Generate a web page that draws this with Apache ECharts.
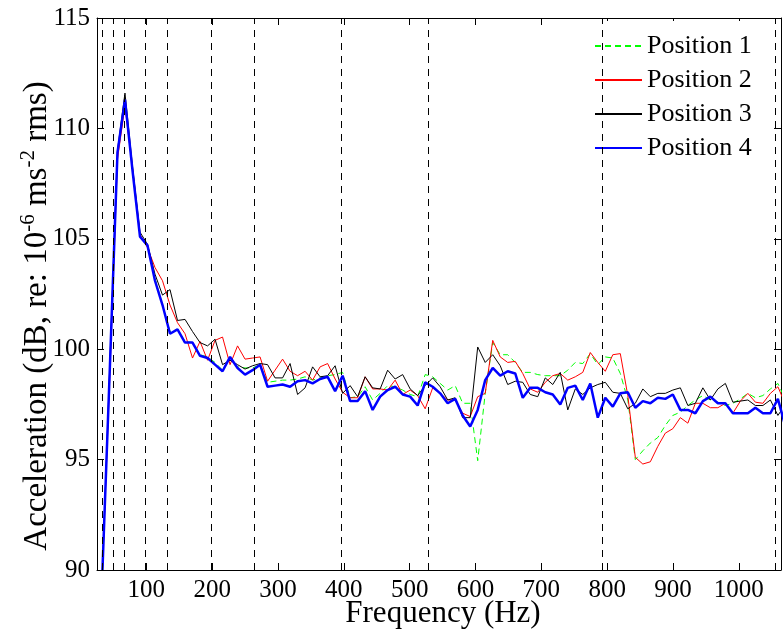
<!DOCTYPE html>
<html>
<head>
<meta charset="utf-8">
<script src="https://cdn.jsdelivr.net/npm/echarts@6/dist/echarts.min.js"></script>
<style>
html,body{margin:0;padding:0;background:#fff;}
#chart{width:784px;height:633px;}
</style>
</head>
<body>
<div id="chart"></div>
<script>
// Frequency bins (Hz)
const freq = [33.3,44.7,56.1,67.5,78.9,90.3,101.7,113.1,124.5,135.9,147.3,158.7,170.1,181.5,192.9,204.3,215.7,227.1,238.5,249.9,261.3,272.7,284.1,295.5,306.9,318.3,329.7,341.1,352.5,363.9,375.3,386.7,398.1,409.5,420.9,432.3,443.7,455.1,466.5,477.9,489.3,500.7,512.1,523.5,534.9,546.3,557.7,569.1,580.5,591.9,603.3,614.7,626.1,637.5,648.9,660.3,671.7,683.1,694.5,705.9,717.3,728.7,740.1,751.5,762.9,774.3,785.7,797.1,808.5,819.9,831.3,842.7,854.1,865.5,876.9,888.3,899.7,911.1,922.5,933.9,945.3,956.7,968.1,979.5,990.9,1002.3,1013.7,1025.1,1036.5,1047.9,1059.3,1070.7];

// Position 1 (green dashed)
const pos1 = [90.0,99.3,108.8,111.2,108.1,105.1,104.7,103.2,102.0,100.8,100.9,100.35,100.3,99.75,99.65,99.4,99.05,99.65,99.2,99.15,99.15,99.3,98.5,98.55,98.6,98.6,98.65,98.75,98.6,98.7,98.8,98.85,98.95,97.8,97.85,98.3,97.7,98.0,98.35,98.3,98.15,97.95,97.85,98.85,98.75,98.45,98.15,98.35,97.55,97.55,94.95,98.0,100.3,99.75,99.75,99.4,98.95,98.95,98.85,98.8,98.8,98.8,99.05,99.4,99.35,99.8,99.3,99.65,99.6,98.9,97.7,95.0,95.4,95.75,96.0,96.55,97.0,97.15,97.45,97.7,97.9,97.7,97.6,97.45,97.55,97.75,98.0,97.8,97.9,98.2,98.45,97.7];

// Position 2 (red)
const pos2 = [90.0,99.0,108.6,111.0,108.2,105.2,104.6,103.7,103.1,102.0,101.2,100.7,99.6,100.35,99.5,100.4,100.55,99.3,100.15,99.55,99.6,99.65,98.55,99.05,99.55,99.0,98.8,99.0,98.6,99.2,99.35,98.65,98.05,97.8,97.8,98.75,98.2,98.2,98.15,98.6,97.95,98.15,97.9,97.3,98.25,98.0,97.7,97.7,97.1,96.95,97.85,98.0,100.4,99.65,99.4,99.45,98.9,98.2,98.05,98.5,98.8,98.9,98.6,98.75,98.95,99.85,99.4,99.0,99.75,99.8,97.9,95.1,94.8,94.9,95.6,96.2,96.4,96.9,96.65,97.55,97.55,97.35,97.35,97.55,97.1,97.65,98.0,97.6,97.55,98.0,98.3,97.5];

// Position 3 (black)
const pos3 = [90.0,99.5,109.0,111.6,108.3,105.3,104.75,103.4,102.45,102.7,101.3,101.35,100.8,100.3,100.15,100.45,99.3,99.5,99.3,99.1,99.25,99.35,99.3,98.7,98.7,99.35,97.95,98.25,99.2,98.75,98.8,99.25,98.0,98.35,97.85,98.75,98.25,98.2,99.05,98.65,98.85,98.2,97.9,98.35,98.7,98.3,97.7,97.8,96.9,96.9,100.1,99.4,99.75,99.25,98.4,98.55,98.5,97.95,97.85,98.7,98.4,98.95,97.25,98.2,97.95,98.25,98.4,98.5,98.05,98.0,97.3,97.55,98.2,97.85,98.0,98.0,98.15,98.25,97.45,97.55,98.25,97.7,98.2,98.45,97.6,97.65,97.7,97.45,97.45,97.7,97.0,97.5];

// Position 4 (blue, thick)
const pos4 = [90.0,99.3,108.9,111.3,108.1,105.1,104.7,103.1,102.0,100.7,100.9,100.3,100.3,99.7,99.6,99.3,99.0,99.65,99.15,98.85,99.05,99.3,98.3,98.35,98.4,98.3,98.55,98.6,98.45,98.65,98.75,98.1,98.8,97.65,97.65,98.1,97.25,97.85,98.15,98.3,97.95,97.85,97.45,98.5,98.3,98.0,97.55,97.75,97.0,96.5,97.25,98.6,99.15,98.8,99.0,98.9,97.8,98.25,98.25,98.05,97.95,97.5,98.25,98.35,97.7,98.45,96.9,97.8,97.4,98.0,98.05,97.35,97.65,97.55,97.8,97.75,97.95,97.25,97.25,97.1,97.65,97.85,97.55,97.55,97.1,97.1,97.1,97.35,97.1,97.1,97.75,96.5];

// Vertical dashed reference lines (Hz)
const harmonics = [33, 49.5, 66, 99, 132, 198, 264, 396, 528, 792, 1056];

// Tick values
const xTicks = [100, 200, 300, 400, 500, 600, 700, 800, 900, 1000];
const yMin = 90, yMax = 115, yStep = 5;
const xMin = 25, xMax = 1064;

const names = ['Position 1', 'Position 2', 'Position 3', 'Position 4'];

const FONT = 'Liberation Serif';
function zip(v){ return freq.map((f,i)=>[f, v[i]]); }

const chart = echarts.init(document.getElementById('chart'), null, {renderer:'canvas'});

const axisLineStyle = {color:'#000', width:1};
const option = {
  animation: false,
  backgroundColor: '#fff',
  grid: {left: 97, right: 3, top: 18, bottom: 63, containLabel: false, outerBoundsMode: 'none'},
  legend: {
    orient: 'vertical',
    left: 588, top: 21,
    padding: [12, 20, 6, 6],
    itemWidth: 47, itemHeight: 14, itemGap: 8,
    backgroundColor: '#fff',
    itemStyle: {opacity: 0, borderWidth: 0},
    textStyle: {fontSize: 26, fontFamily: FONT, color: '#000', lineHeight: 26},
    data: names
  },
  xAxis: [
    {
      type: 'value', position: 'bottom', min: xMin, max: xMax,
      axisLine: {show: true, lineStyle: axisLineStyle},
      axisTick: {show: true, inside: true, length: 7, lineStyle: axisLineStyle, customValues: xTicks},
      axisLabel: {show: true, customValues: xTicks, fontSize: 25, fontFamily: FONT, color: '#000', margin: 8,
                  formatter: v => String(v)},
      splitLine: {show: false},
      name: 'Frequency (Hz)', nameLocation: 'middle', nameGap: 28, nameMoveOverlap: false,
      nameTextStyle: {fontSize: 31, fontFamily: FONT, color: '#000', padding: [0,0,0,8]}
    },
    {
      type: 'value', position: 'top', min: xMin, max: xMax,
      axisLine: {show: true, onZero: false, lineStyle: axisLineStyle},
      axisTick: {show: true, inside: true, length: 7, lineStyle: axisLineStyle, customValues: xTicks},
      axisLabel: {show: false},
      splitLine: {show: false}
    }
  ],
  yAxis: [
    {
      type: 'value', position: 'left', min: yMin, max: yMax, interval: yStep,
      axisLine: {show: true, onZero: false, lineStyle: axisLineStyle},
      axisTick: {show: true, inside: true, length: 7, lineStyle: axisLineStyle},
      axisLabel: {fontSize: 25, fontFamily: FONT, color: '#000', margin: 7},
      splitLine: {show: false},
      name: '{a|Acceleration (dB, re: 10}{s|-6}{a| ms}{s|-2}{a| rms)}',
      nameLocation: 'middle', nameRotate: 90, nameGap: 41, nameMoveOverlap: false,
      nameTextStyle: {
        fontSize: 33, fontFamily: FONT, color: '#000', padding: [0, 44, 0, 0],
        rich: {
          a: {fontSize: 33, fontFamily: FONT, color: '#000', lineHeight: 38},
          s: {fontSize: 21, fontFamily: FONT, color: '#000', lineHeight: 23, verticalAlign: 'top'}
        }
      }
    },
    {
      type: 'value', position: 'right', min: yMin, max: yMax, interval: yStep,
      axisLine: {show: true, onZero: false, lineStyle: axisLineStyle},
      axisTick: {show: true, inside: true, length: 7, lineStyle: axisLineStyle},
      axisLabel: {show: false},
      splitLine: {show: false}
    }
  ],
  series: [
    {
      name: 'harmonics', type: 'line', data: [], z: 1, silent: true,
      markLine: {
        silent: true, symbol: ['none','none'], label: {show: false},
        lineStyle: {color: '#000', width: 1, type: [7, 6]},
        emphasis: {disabled: true},
        data: harmonics.map(h => ({xAxis: h}))
      }
    },
    {
      name: names[0], type: 'line', data: zip(pos1), symbol: 'none', showSymbol: false, clip: true, z: 3,
      lineStyle: {color: '#00ff00', width: 1, type: [6, 4]}, itemStyle: {color: '#00ff00'}
    },
    {
      name: names[1], type: 'line', data: zip(pos2), symbol: 'none', showSymbol: false, clip: true, z: 3,
      lineStyle: {color: '#ff0000', width: 1}, itemStyle: {color: '#ff0000'}
    },
    {
      name: names[2], type: 'line', data: zip(pos3), symbol: 'none', showSymbol: false, clip: true, z: 3,
      lineStyle: {color: '#000000', width: 1}, itemStyle: {color: '#000000'}
    },
    {
      name: names[3], type: 'line', data: zip(pos4), symbol: 'none', showSymbol: false, clip: true, z: 3,
      lineStyle: {color: '#0000ff', width: 2.5}, itemStyle: {color: '#0000ff'}
    }
  ]
};
chart.setOption(option);
</script>
</body>
</html>
